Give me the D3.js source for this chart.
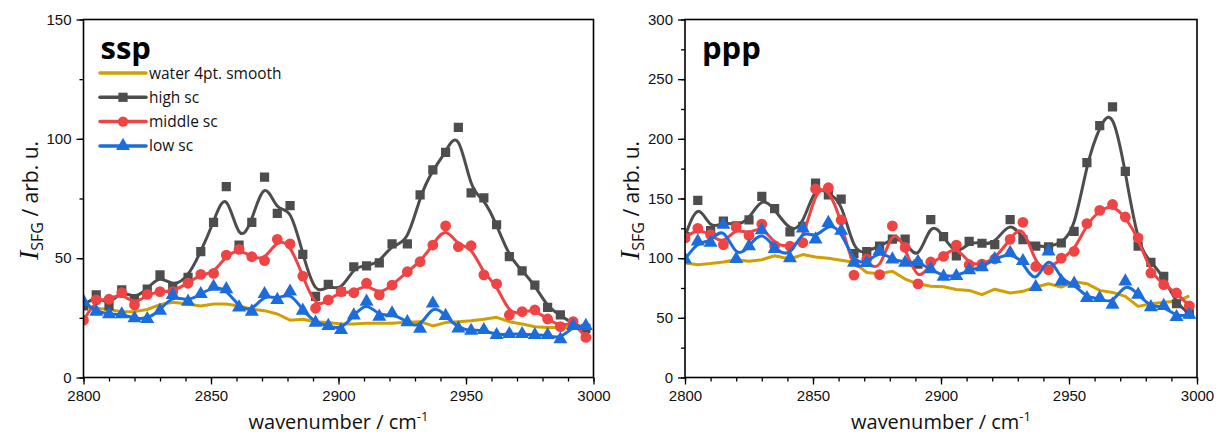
<!DOCTYPE html>
<html>
<head>
<meta charset="utf-8">
<script src="https://cdn.jsdelivr.net/npm/d3@7"></script>
<style>
  body { margin: 0; background: #fff; }
  svg { display: block; font-family: "Open Sans", sans-serif; }
</style>
</head>
<body>
<script>
"use strict"
const W = 1222, H = 435;

// wavenumbers of the 40 measured points (cm-1)
const wavenumber = [2800, 2805, 2810, 2815, 2820, 2825, 2830, 2835, 2841, 2846,
  2851, 2856, 2861, 2866, 2871, 2876, 2881, 2886, 2891, 2896,
  2901, 2906, 2911, 2916, 2921, 2927, 2932, 2937, 2942, 2947,
  2952, 2957, 2962, 2967, 2972, 2977, 2982, 2987, 2992, 2997];

// ssp
const sspWater = [29.5, 29, 28.5, 27.6, 27.6, 28.5, 30.5, 31.5, 30.8, 30,
  30.8, 30.8, 30, 28.6, 28, 26.6, 24, 24.4, 23.4, 23,
  22.4, 22.4, 22.7, 22.7, 22.7, 23.2, 23.4, 21.6, 23, 23.4,
  23.8, 24.4, 25.2, 23.4, 22.4, 21.3, 21, 21, 21, 21];
const sspHigh = [30, 34.6, 30, 36.7, 33, 37, 43, 38, 42, 52.7,
  65, 80, 55.5, 65, 84, 68.8, 72, 51.6, 34, 39,
  36, 46.4, 46.8, 48, 56, 56, 76.5, 87, 94.3, 104.8,
  77.4, 75.3, 64, 50.6, 44.7, 38.7, 29.4, 26.2, 22.4, 20.6];
const sspMiddle = [24, 32.5, 32.8, 35.5, 30.4, 34.8, 36, 36, 39.5, 43.2,
  43.6, 51.3, 53.7, 50.6, 49, 57.9, 56, 42.5, 29, 32.5,
  36, 35.5, 39.5, 34.6, 38.7, 44.3, 48.5, 55.5, 63.5, 54.8,
  55.2, 43, 39.2, 26.2, 27.6, 28.3, 24.5, 21.3, 23.4, 16.8];
const sspLow = [31.8, 27.6, 26.5, 26.5, 24.8, 24.5, 28, 34.6, 31.8, 35,
  38, 37, 29.4, 27.6, 35, 32.5, 36, 28, 23, 21.6,
  19.9, 26, 31.8, 25.5, 26.9, 23.2, 20.4, 31, 25.8, 20.6,
  19.6, 19.9, 17.8, 18.2, 18.2, 17.8, 17.8, 16, 21.6, 21.6];

// ppp
const pppWater = [96, 94.5, 95.5, 96.8, 98.7, 97.5, 98.7, 102, 99.3, 103,
  101, 100, 98.2, 96.5, 88, 87, 89, 82.5, 78.5, 76.4,
  76, 73.8, 73, 69.4, 74, 70.8, 72.2, 75.8, 78.6, 75.8,
  80.5, 78.6, 73, 71.3, 68, 59.6, 61.8, 63, 63.8, 68.5];
const pppHigh = [118, 148.5, 123, 131, 127, 132, 151.8, 141.5, 122, 126.7,
  163, 153, 149.5, 103.8, 105.5, 110, 116, 116, 95, 132.3,
  118, 102, 114, 112.5, 111.3, 132.3, 115.5, 110, 109.4, 112.7,
  122.5, 180, 211, 226.8, 172.8, 110, 96.5, 84.7, 61.8, 53.4];
const pppMiddle = [117, 125, 119.7, 111.4, 126.2, 119, 128.5, 110.5, 110, 113,
  158, 159, 132, 85.8, 99.3, 86.2, 127, 109, 78.5, 96.8,
  101.5, 111, 94.5, 95, 99.3, 115.8, 130, 93, 90.3, 100,
  105.7, 129, 140, 145, 134.5, 117, 87.5, 77.8, 70.8, 60];
const pppLow = [99, 114, 113, 128, 99.3, 110, 123.5, 107.7, 100, 125,
  115.7, 129.5, 123, 96.3, 96, 106, 99, 96.3, 97, 90.8,
  84.5, 85, 90, 92.5, 99.3, 104.5, 97.6, 75.8, 105.7, 80.5,
  78.6, 66.6, 66.6, 61, 80.5, 69.4, 59, 60, 50.7, 52.6];

const xTicks = [2800, 2850, 2900, 2950, 3000];
const sspYTicks = [0, 50, 100, 150];
const pppYTicks = [0, 50, 100, 150, 200, 250, 300];
const legendLabels = ["water 4pt. smooth", "high sc", "middle sc", "low sc"];

const colors = { water: "#d1a000", high: "#4d4d4d", middle: "#f04343", low: "#1c6ddb" };

const svg = d3.select("body").append("svg")
  .attr("width", W).attr("height", H);

function drawPanel(p) {
  const x = d3.scaleLinear().domain([2800, 3000]).range([p.left, p.right]);
  const y = d3.scaleLinear().domain([0, p.ymax]).range([p.bottom, p.top]);
  const g = svg.append("g");

  const clipId = "clip" + p.id;
  g.append("clipPath").attr("id", clipId)
    .append("rect")
    .attr("x", p.left).attr("y", p.top)
    .attr("width", p.right - p.left).attr("height", p.bottom - p.top);

  // axes, minor ticks every 10 cm-1 and every 25 units
  const xMinor = d3.range(2800, 3001, 10);
  const yMinor = d3.range(0, p.ymax + 1, 25);

  g.append("g").attr("transform", "translate(0," + p.bottom + ")")
    .call(d3.axisBottom(x).tickValues(xMinor).tickSize(4).tickFormat(""))
    .call(a => a.select(".domain").remove());
  g.append("g").attr("transform", "translate(0," + p.bottom + ")")
    .call(d3.axisBottom(x).tickValues(xTicks).tickSize(7).tickPadding(6).tickFormat(d3.format("d")))
    .call(a => a.select(".domain").remove())
    .selectAll("text").style("font-size", "15px").attr("fill", "#111");

  g.append("g").attr("transform", "translate(" + p.left + ",0)")
    .call(d3.axisLeft(y).tickValues(yMinor).tickSize(4).tickFormat(""))
    .call(a => a.select(".domain").remove());
  g.append("g").attr("transform", "translate(" + p.left + ",0)")
    .call(d3.axisLeft(y).tickValues(p.yTicks).tickSize(7).tickPadding(5))
    .call(a => a.select(".domain").remove())
    .selectAll("text").style("font-size", "15px").attr("fill", "#111");

  g.selectAll(".tick line").attr("stroke", "#000").attr("stroke-width", 1.3);

  const series = [
    { key: "water", values: p.water, curve: d3.curveLinear, marker: null },
    { key: "high", values: p.high, curve: d3.curveBasis, marker: d3.symbolSquare, size: 85 },
    { key: "middle", values: p.middle, curve: d3.curveBasis, marker: d3.symbolCircle, size: 92 },
    { key: "low", values: p.low, curve: d3.curveBasis, marker: d3.symbolTriangle, size: 85 }
  ];

  const plot = g.append("g").attr("clip-path", "url(#" + clipId + ")");

  series.forEach(s => {
    const pts = wavenumber.map((w, i) => [w, s.values[i]]);
    const line = d3.line().x(d => x(d[0])).y(d => y(d[1])).curve(s.curve);
    plot.append("path")
      .attr("d", line(pts))
      .attr("fill", "none")
      .attr("stroke", colors[s.key])
      .attr("stroke-width", 3)
      .attr("stroke-linejoin", "round");
    if (s.marker) {
      plot.selectAll(null).data(pts).enter()
        .append("path")
        .attr("d", d3.symbol().type(s.marker).size(s.size))
        .attr("transform", d => "translate(" + x(d[0]) + "," + y(d[1]) + ")")
        .attr("fill", colors[s.key]);
    }
  });

  // frame
  g.append("rect")
    .attr("x", p.left).attr("y", p.top)
    .attr("width", p.right - p.left).attr("height", p.bottom - p.top)
    .attr("fill", "none").attr("stroke", "#000").attr("stroke-width", 1.6);

  // title
  g.append("text")
    .attr("x", p.left + 17).attr("y", p.top + 39)
    .style("font-size", "31px").style("font-weight", "bold")
    .attr("fill", "#000")
    .text(p.title);

  // axis titles
  const xt = g.append("text")
    .attr("x", (p.left + p.right) / 2).attr("y", 429)
    .attr("text-anchor", "middle")
    .style("font-size", "20px").attr("fill", "#111");
  xt.append("tspan").text("wavenumber / cm");
  xt.append("tspan").attr("dy", -8).style("font-size", "13px").text("-1");

  const yt = g.append("text")
    .attr("transform", "translate(" + (p.left - 46) + "," + ((p.top + p.bottom) / 2 + 2) + ") rotate(-90)")
    .attr("text-anchor", "middle")
    .style("font-size", "21px").attr("fill", "#111");
  yt.append("tspan").style("font-family", "'Liberation Serif', serif")
    .style("font-style", "italic").style("font-size", "28px").text("I");
  yt.append("tspan").attr("dy", 5).style("font-size", "16px").text("SFG");
  yt.append("tspan").attr("dy", -5).text(" / arb. u.");

  return { x, y };
}

drawPanel({ id: "ssp", title: "ssp", left: 83.5, right: 593.5, top: 19.5, bottom: 377.5,
  ymax: 150, yTicks: sspYTicks, water: sspWater, high: sspHigh, middle: sspMiddle, low: sspLow });
drawPanel({ id: "ppp", title: "ppp", left: 685, right: 1197, top: 19.5, bottom: 377.5,
  ymax: 300, yTicks: pppYTicks, water: pppWater, high: pppHigh, middle: pppMiddle, low: pppLow });

// legend (left panel)
const legendKeys = ["water", "high", "middle", "low"];
const legendMarks = [null, d3.symbolSquare, d3.symbolCircle, d3.symbolTriangle];
const legend = svg.append("g").attr("transform", "translate(100,73)");
legendKeys.forEach((k, i) => {
  const row = legend.append("g").attr("transform", "translate(0," + (i * 24.3) + ")");
  row.append("line").attr("x1", 0).attr("x2", 46).attr("y1", 0).attr("y2", 0)
    .attr("stroke", colors[k]).attr("stroke-width", 3.5).attr("stroke-linecap", "round");
  if (legendMarks[i]) {
    row.append("path").attr("d", d3.symbol().type(legendMarks[i]).size(85))
      .attr("transform", "translate(23,0)").attr("fill", colors[k]);
  }
  row.append("text").attr("x", 49).attr("y", 5.5)
    .style("font-size", "15.5px").attr("fill", "#111")
    .text(legendLabels[i]);
});
</script>
</body>
</html>
